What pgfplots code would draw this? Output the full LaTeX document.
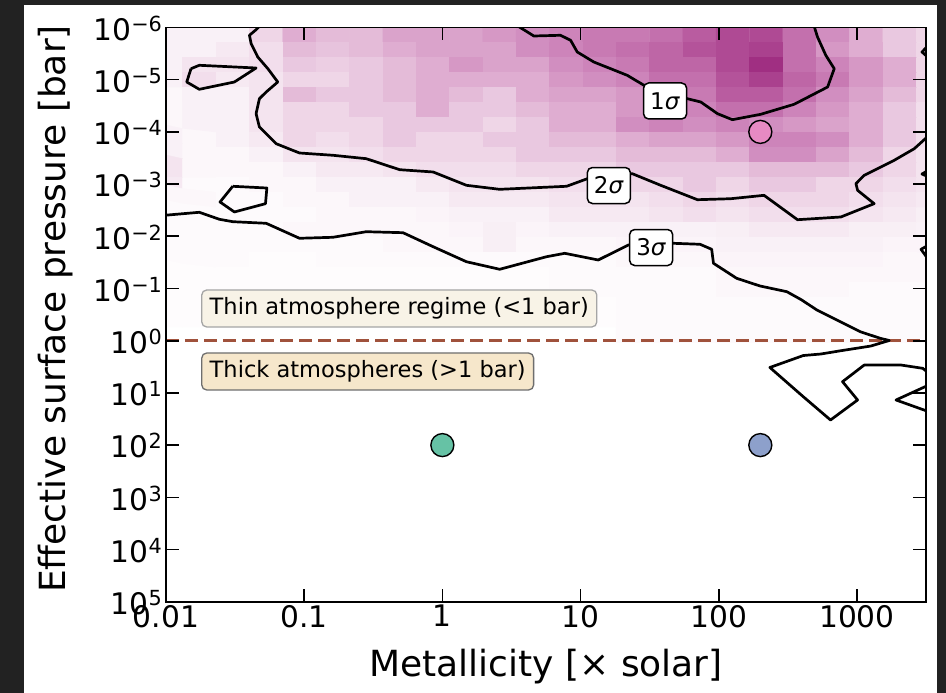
\documentclass[border=0pt]{standalone}
\usepackage{fontspec}
\setmainfont{DejaVu Sans}
\usepackage{pgfplots}
\pgfplotsset{compat=1.18}
\definecolor{bgdark}{RGB}{34,34,34}
\definecolor{thinfill}{RGB}{248,243,231}
\definecolor{thickfill}{RGB}{246,231,203}
\definecolor{dashc}{RGB}{160,82,60}
\definecolor{s2green}{RGB}{102,194,165}
\definecolor{s2blue}{RGB}{141,160,203}
\definecolor{s2pink}{RGB}{231,138,195}
\newcommand\ep[1]{10\smash{\textsuperscript{#1}}}
\pgfplotsset{cont/.style={black, line width=2.7pt, line join=round, no markers}}
\begin{document}
\begin{tikzpicture}
\useasboundingbox (0,0) rectangle (946pt,693pt);
\fill[bgdark] (0,0) rectangle (946pt,693pt);
\fill[white] (24pt,0) rectangle (937pt,688pt);
\begin{axis}[
  at={(166pt,91.3pt)}, anchor=south west,
  width=760pt, height=574.2pt, scale only axis,
  xmin=-2, xmax=3.5, ymin=-6, ymax=5, y dir=reverse,
  xtick={-2,-1,0,1,2,3},
  xticklabels={0.01,0.1,1,10,100,1000},
  ytick={-6,-5,-4,-3,-2,-1,0,1,2,3,4,5},
  yticklabels={\ep{−6},\ep{−5},\ep{−4},\ep{−3},\ep{−2},\ep{−1},\ep{0},\ep{1},\ep{2},\ep{3},\ep{4},\ep{5}},
  xtick pos=both, ytick pos=both,
  xticklabel pos=lower, yticklabel pos=left,
  tick align=inside, major tick length=13pt, minor tick num=0,
  tick style={black, line width=1.6pt},
  axis line style={black, line width=1.6pt},
  tick label style={font=\fontsize{29.7}{32}\selectfont},
  yticklabel style={yshift=-2pt},
  xlabel={Metallicity [× solar]},
  ylabel={Effective surface pressure [bar]},
  label style={font=\fontsize{36}{40}\selectfont},
  xlabel style={at={(axis description cs:0.5,-0.1311)}, anchor=base},
  ylabel style={at={(axis description cs:-0.1316,0.5098)}, anchor=base, rotate=0},
  axis on top,
  colormap={pur}{rgb255(0cm)=(255,255,255); rgb255(1cm)=(244,228,239); rgb255(3cm)=(223,173,209); rgb255(5cm)=(205,132,186); rgb255(7cm)=(185,92,160); rgb255(10cm)=(155,38,124)},
  point meta min=0, point meta max=1,
]
% 2D histogram (24 columns in log metallicity, 21 rows in log pressure)
\addplot[matrix plot*, mesh/cols=24, mesh/ordering=x varies, point meta=explicit]
 table[row sep=\\, x expr={-2+0.2413*mod(\coordindex,24)}, y expr={-5.856+0.2874*floor(\coordindex/24)}, meta=c] {
c\\
0.05\\0.05\\0.05\\0.15\\0.30\\0.25\\0.25\\0.35\\0.35\\0.35\\0.40\\0.45\\0.50\\0.55\\0.55\\0.60\\0.70\\0.80\\0.80\\0.60\\0.45\\0.30\\0.20\\0.15\\
0.05\\0.05\\0.08\\0.12\\0.25\\0.22\\0.25\\0.30\\0.35\\0.35\\0.35\\0.45\\0.50\\0.55\\0.60\\0.65\\0.75\\0.80\\0.85\\0.60\\0.40\\0.30\\0.20\\0.15\\
0.05\\0.10\\0.10\\0.12\\0.20\\0.18\\0.20\\0.25\\0.30\\0.40\\0.35\\0.35\\0.45\\0.50\\0.55\\0.65\\0.65\\0.80\\0.95\\0.60\\0.50\\0.40\\0.30\\0.15\\
0.05\\0.12\\0.08\\0.10\\0.15\\0.15\\0.20\\0.25\\0.30\\0.30\\0.30\\0.30\\0.40\\0.45\\0.50\\0.60\\0.60\\0.75\\0.85\\0.65\\0.55\\0.40\\0.30\\0.15\\
0.03\\0.05\\0.05\\0.10\\0.25\\0.20\\0.20\\0.25\\0.30\\0.25\\0.20\\0.30\\0.35\\0.35\\0.40\\0.50\\0.55\\0.70\\0.70\\0.60\\0.45\\0.35\\0.25\\0.15\\
0.03\\0.05\\0.05\\0.10\\0.15\\0.15\\0.20\\0.20\\0.30\\0.20\\0.20\\0.25\\0.30\\0.30\\0.40\\0.45\\0.50\\0.60\\0.60\\0.50\\0.40\\0.30\\0.20\\0.12\\
0.03\\0.05\\0.05\\0.10\\0.15\\0.15\\0.15\\0.20\\0.20\\0.20\\0.15\\0.20\\0.30\\0.30\\0.45\\0.50\\0.45\\0.50\\0.45\\0.40\\0.35\\0.30\\0.20\\0.12\\
0.05\\0.03\\0.05\\0.08\\0.15\\0.12\\0.15\\0.20\\0.15\\0.15\\0.20\\0.20\\0.25\\0.25\\0.30\\0.35\\0.35\\0.40\\0.50\\0.50\\0.45\\0.30\\0.20\\0.12\\
0.05\\0.03\\0.03\\0.05\\0.10\\0.10\\0.12\\0.15\\0.15\\0.15\\0.15\\0.20\\0.20\\0.20\\0.25\\0.25\\0.25\\0.30\\0.45\\0.45\\0.35\\0.25\\0.15\\0.10\\
0.10\\0.03\\0.03\\0.03\\0.05\\0.08\\0.08\\0.10\\0.12\\0.12\\0.12\\0.15\\0.15\\0.15\\0.20\\0.20\\0.20\\0.20\\0.25\\0.25\\0.25\\0.20\\0.15\\0.10\\
0.08\\0.02\\0.02\\0.03\\0.03\\0.05\\0.05\\0.05\\0.08\\0.10\\0.10\\0.10\\0.12\\0.12\\0.15\\0.15\\0.20\\0.15\\0.20\\0.20\\0.15\\0.15\\0.12\\0.10\\
0.03\\0.03\\0.02\\0.02\\0.03\\0.03\\0.05\\0.05\\0.05\\0.08\\0.08\\0.08\\0.10\\0.10\\0.10\\0.12\\0.15\\0.12\\0.15\\0.15\\0.15\\0.12\\0.10\\0.08\\
0.02\\0.02\\0.02\\0.02\\0.02\\0.03\\0.03\\0.03\\0.04\\0.05\\0.05\\0.05\\0.08\\0.08\\0.08\\0.10\\0.12\\0.10\\0.12\\0.12\\0.12\\0.10\\0.08\\0.06\\
0.02\\0.02\\0.02\\0.02\\0.03\\0.03\\0.03\\0.03\\0.03\\0.04\\0.06\\0.04\\0.05\\0.05\\0.05\\0.05\\0.05\\0.06\\0.08\\0.08\\0.08\\0.06\\0.06\\0.05\\
0.02\\0.02\\0.02\\0.02\\0.02\\0.02\\0.02\\0.03\\0.03\\0.03\\0.06\\0.03\\0.03\\0.03\\0.04\\0.04\\0.04\\0.05\\0.05\\0.05\\0.05\\0.05\\0.04\\0.04\\
0.02\\0.02\\0.02\\0.01\\0.01\\0.02\\0.02\\0.02\\0.02\\0.02\\0.02\\0.02\\0.02\\0.02\\0.03\\0.03\\0.03\\0.04\\0.04\\0.04\\0.04\\0.04\\0.03\\0.03\\
0.01\\0.01\\0.01\\0.01\\0.01\\0.01\\0.01\\0.01\\0.01\\0.01\\0.01\\0.01\\0.02\\0.02\\0.02\\0.02\\0.02\\0.03\\0.03\\0.03\\0.03\\0.03\\0.03\\0.03\\
0.01\\0.01\\0.01\\0.01\\0.01\\0.01\\0.01\\0.01\\0.01\\0.01\\0.01\\0.01\\0.02\\0.02\\0.02\\0.02\\0.02\\0.03\\0.03\\0.03\\0.03\\0.02\\0.02\\0.02\\
0.01\\0.01\\0.01\\0.01\\0.01\\0.01\\0.01\\0.01\\0.01\\0.01\\0.01\\0.01\\0.01\\0.01\\0.02\\0.02\\0.02\\0.02\\0.02\\0.02\\0.02\\0.02\\0.02\\0.02\\
0.01\\0.01\\0.01\\0.01\\0.01\\0.01\\0.01\\0.01\\0.01\\0.01\\0.01\\0.01\\0.01\\0.01\\0.02\\0.02\\0.02\\0.02\\0.02\\0.02\\0.02\\0.02\\0.02\\0.02\\
0.00\\0.00\\0.00\\0.00\\0.00\\0.00\\0.00\\0.00\\0.00\\0.00\\0.00\\0.00\\0.00\\0.00\\0.02\\0.02\\0.02\\0.02\\0.02\\0.02\\0.02\\0.02\\0.02\\0.02\\
};
% 1 bar boundary
\addplot[dashc, line width=2.6pt, dash pattern=on 13pt off 6pt, no markers] coordinates {(-2,0) (3.5,0)};
% 1 sigma
\addplot[cont] coordinates {(0.551,-6.02) (0.662,-5.837) (0.855,-5.851) (0.928,-5.755) (0.976,-5.531) (1.096,-5.339) (1.338,-5.084) (1.459,-4.893) (1.773,-4.636) (1.870,-4.573) (1.991,-4.349) (2.099,-4.234) (2.304,-4.337) (2.546,-4.529) (2.788,-4.860) (2.836,-5.211) (2.775,-5.467) (2.715,-5.818) (2.691,-6.02)};
% 2 sigma
\addplot[cont] coordinates {(-1.326,-6.02) (-1.348,-5.958) (-1.396,-5.851) (-1.384,-5.690) (-1.336,-5.435) (-1.263,-5.211) (-1.191,-4.956) (-1.275,-4.764) (-1.324,-4.636) (-1.348,-4.349) (-1.324,-4.094) (-1.203,-3.774) (-1.034,-3.596) (-0.792,-3.552) (-0.551,-3.487) (-0.309,-3.276) (-0.067,-3.232) (0.174,-2.977) (0.415,-2.900) (0.899,-2.958) (1.049,-3.103) (1.375,-3.199) (1.580,-2.977) (1.846,-2.701) (2.087,-2.720) (2.328,-2.785) (2.570,-2.318) (2.884,-2.370) (3.125,-2.625) (3.005,-2.881) (2.993,-3.008) (3.053,-3.169) (3.270,-3.456) (3.415,-3.678) (3.52,-3.93)};
\addplot[cont] coordinates {(-1.819,-5.211) (-1.759,-5.276) (-1.348,-5.224) (-1.505,-4.956) (-1.759,-4.816) (-1.850,-4.956) (-1.819,-5.211)};
\addplot[cont] coordinates {(3.52,-5.665) (3.471,-5.531) (3.52,-5.416)};
\addplot[cont] coordinates {(3.52,-3.270) (3.471,-3.193) (3.52,-3.136)};
% 3 sigma
\addplot[cont] coordinates {(-2.02,-2.40) (-1.759,-2.460) (-1.614,-2.326) (-1.517,-2.280) (-1.275,-2.249) (-1.034,-1.962) (-0.792,-1.981) (-0.551,-2.088) (-0.285,-2.069) (-0.067,-1.801) (0.174,-1.513) (0.415,-1.368) (0.754,-1.609) (0.886,-1.674) (1.128,-1.546) (1.346,-1.833) (1.672,-1.866) (1.865,-1.847) (1.949,-1.751) (1.962,-1.483) (2.130,-1.195) (2.299,-1.048) (2.493,-0.939) (2.601,-0.780) (2.710,-0.588) (2.879,-0.364) (3.024,-0.172) (3.169,-0.046) (3.234,-0.004) (3.101,0.102) (2.884,0.192) (2.739,0.255) (2.612,0.284) (2.370,0.513) (2.612,1.073) (2.809,1.519) (3.005,1.136) (2.896,0.785) (3.053,0.466) (3.319,0.466) (3.476,0.529) (3.52,0.62)};
\addplot[cont] coordinates {(-1.517,-2.958) (-1.270,-2.925) (-1.280,-2.625) (-1.505,-2.466) (-1.609,-2.657) (-1.517,-2.958)};
\addplot[cont] coordinates {(3.52,-1.833) (3.464,-1.751) (3.52,-1.546)};
\addplot[cont] coordinates {(3.52,0.849) (3.283,1.136) (3.52,1.360)};
% markers
\addplot[only marks, mark=*, mark size=11.5pt, mark options={fill=s2pink, draw=black, line width=1.4pt}] coordinates {(2.301,-4)};
\addplot[only marks, mark=*, mark size=11.5pt, mark options={fill=s2green, draw=black, line width=1.4pt}] coordinates {(0,2)};
\addplot[only marks, mark=*, mark size=11.5pt, mark options={fill=s2blue, draw=black, line width=1.4pt}] coordinates {(2.301,2)};
% contour labels
\tikzset{siglab/.style={draw=black, fill=white, line width=1.5pt, rounded corners=5pt, minimum width=43pt, minimum height=36pt, inner sep=2pt, font=\fontsize{23}{25}\selectfont}}
\node[siglab] at (axis cs:1.612,-4.592) {1\textit{σ}};
\node[siglab] at (axis cs:1.205,-2.973) {2\textit{σ}};
\node[siglab] at (axis cs:1.511,-1.785) {3\textit{σ}};
% regime boxes
\node[anchor=west, draw={rgb,255:red,165;green,165;blue,165}, fill=thinfill, line width=1.3pt, rounded corners=5pt, minimum height=37pt, inner xsep=8pt, font=\fontsize{22.5}{24}\selectfont] at (axis cs:-1.746,-0.617) {Thin atmosphere regime (<1 bar)};
\node[anchor=west, draw={rgb,255:red,110;green,110;blue,110}, fill=thickfill, line width=1.3pt, rounded corners=5pt, minimum height=37pt, inner xsep=8pt, font=\fontsize{22.5}{24}\selectfont] at (axis cs:-1.746,0.590) {Thick atmospheres (>1 bar)};
\end{axis}
\end{tikzpicture}
\end{document}
